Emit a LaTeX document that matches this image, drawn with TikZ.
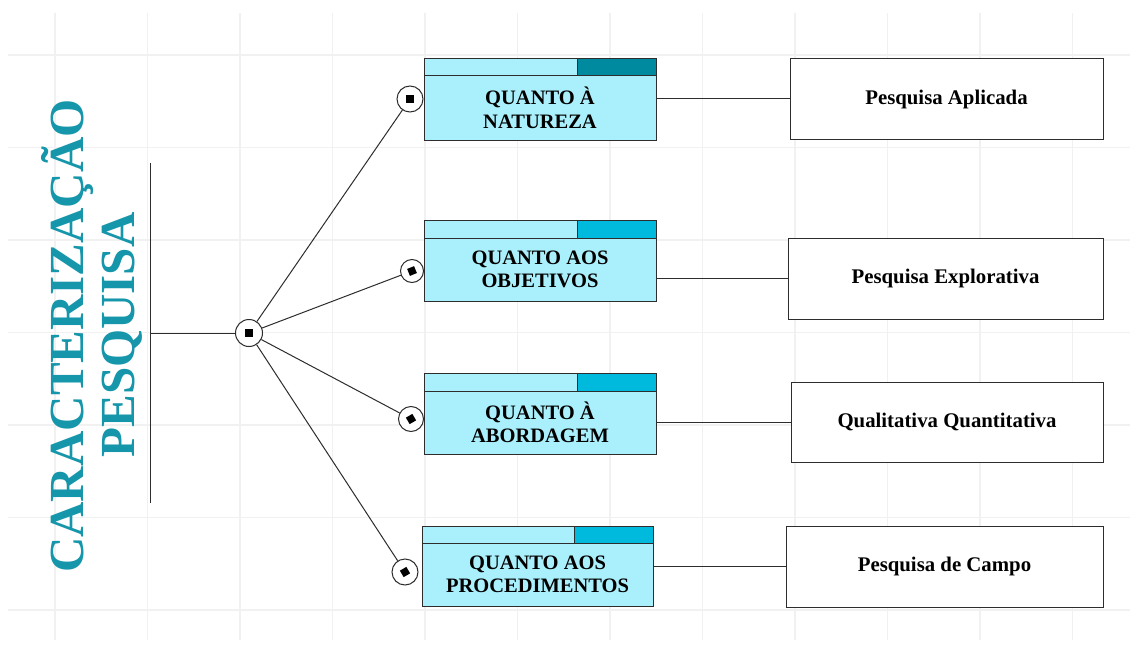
\documentclass[tikz,border=0pt]{standalone}
\usepackage{fontspec}
\setmainfont{Liberation Serif}
\definecolor{lightc}{RGB}{170,240,252}
\definecolor{darkc}{RGB}{0,138,160}
\definecolor{midc}{RGB}{0,186,222}
\definecolor{titlec}{RGB}{22,150,170}
\definecolor{gridc}{RGB}{241,241,241}
\definecolor{edgec}{RGB}{45,45,45}
\newcommand\qbox[9]{%
  \fill[lightc] (#2,#3) rectangle (#7,#5);
  \fill[#8] (#6,#3) rectangle (#7,#4);
  \draw[boxline] (#2,#3) rectangle (#7,#5);
  \draw[boxline] (#2,#4) -- (#7,#4) (#6,#3) -- (#6,#4);
  \node[qbody, minimum width={#7-#2}, minimum height={#5-#4}] (#1) at ({(#2+#7)/2},{(#4+#5)/2}) {#9};
}
\begin{document}
\begin{tikzpicture}[x=1pt,y=-1pt,
  boxline/.style={draw=edgec, line width=1pt},
  qbody/.style={rectangle, inner sep=0pt, align=center, font=\bfseries\fontsize{20.5}{23.5}\selectfont},
  rbox/.style={rectangle, draw=edgec, line width=1pt, fill=white, inner sep=0pt, align=center, font=\bfseries\fontsize{20.8}{23}\selectfont},
  circ/.style={circle, draw=edgec, line width=1pt, fill=white, inner sep=0pt},
  sqr/.style={rectangle, fill=black, inner sep=0pt, minimum size=7.5pt},
  conn/.style={draw=edgec, line width=1pt},
  titletext/.style={inner sep=0pt, text=titlec, font=\bfseries\fontsize{49}{52}\selectfont}
]
\useasboundingbox (0,0) rectangle (1137,650);
\fill[white] (0,0) rectangle (1137,650);
% faint background grid
\foreach \x in {55,147.5,...,1080} \draw[gridc, line width=1.2pt] (\x,13) -- (\x,640);
\foreach \y in {55,147.5,...,620} \draw[gridc, line width=1.2pt] (8,\y) -- (1130,\y);

% title
\node[titletext, rotate=90, anchor=base] (t1) at (83,336) {CARACTERIZAÇÃO};
\node[titletext, rotate=90, anchor=base] (t2) at (134,335) {PESQUISA};

% left bar and hub
\coordinate (vt) at (150,163);
\coordinate (vb) at (150,503);
\draw[conn] (vt) -- (vb);
\node[circ, minimum size=27pt] (hub) at (249,333) {};
\node[sqr, minimum size=8.5pt] (sq0) at (hub) {};
\draw[conn] (hub.west) -- (hub.west -| vt);

% category boxes
\qbox{q1}{424}{59}{76}{140}{577}{656}{darkc}{QUANTO À\\NATUREZA}
\qbox{q2}{424}{220}{238}{301}{577}{656}{midc}{QUANTO AOS\\OBJETIVOS}
\qbox{q3}{424}{373}{391}{454}{577}{656}{midc}{QUANTO À\\ABORDAGEM}
\qbox{q4}{422}{526}{543}{606}{574}{653}{midc}{QUANTO AOS\\PROCEDIMENTOS}

% small circles
\node[circ, minimum size=26pt] (c1) at (410,99) {};
\node[circ, minimum size=23pt] (c2) at (412,271) {};
\node[circ, minimum size=25pt] (c3) at (411,419) {};
\node[circ, minimum size=26pt] (c4) at (405,572) {};
\node[sqr] (sq1) at (c1) {};
\node[sqr, rotate=22] (sq2) at (c2) {};
\node[sqr, rotate=30] (sq3) at (c3) {};
\node[sqr, rotate=30] (sq4) at (c4) {};
\draw[conn] (hub) -- (c1);
\draw[conn] (hub) -- (c2);
\draw[conn] (hub) -- (c3);
\draw[conn] (hub) -- (c4);

% result boxes
\node[rbox, minimum width=313pt, minimum height=80pt] (r1) at (946.5,99) {Pesquisa Aplicada};
\node[rbox, minimum width=315pt, minimum height=81pt] (r2) at (945.5,278.5) {Pesquisa Explorativa};
\node[rbox, minimum width=312pt, minimum height=80pt] (r3) at (947,422) {Qualitativa Quantitativa};
\node[rbox, minimum width=317pt, minimum height=81pt] (r4) at (944.5,566.5) {Pesquisa de Campo};

\draw[conn] (r1.west -| q1.east) -- (r1.west);
\draw[conn] (r2.west -| q2.east) -- (r2.west);
\draw[conn] (r3.west -| q3.east) -- (r3.west);
\draw[conn] (r4.west -| q4.east) -- (r4.west);
\end{tikzpicture}
\end{document}
